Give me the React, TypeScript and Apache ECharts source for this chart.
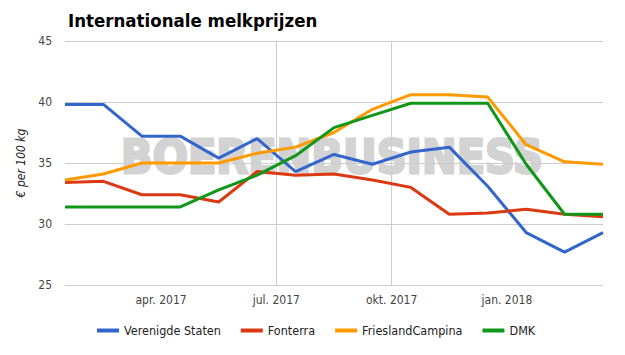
import React, { useEffect, useRef } from "react";
import * as echarts from "echarts";

// Monthly observations (mid-month), Jan 2017 .. Mar 2018
const months = [
  "jan. 2017", "feb. 2017", "mrt. 2017", "apr. 2017", "mei 2017", "jun. 2017",
  "jul. 2017", "aug. 2017", "sep. 2017", "okt. 2017", "nov. 2017", "dec. 2017",
  "jan. 2018", "feb. 2018", "mrt. 2018",
];
const verenigdeStaten = [39.8, 39.8, 37.2, 37.2, 35.4, 37.0, 34.3, 35.7, 34.9, 35.9, 36.3, 33.1, 29.3, 27.7, 29.3];
const fonterra = [33.4, 33.5, 32.4, 32.4, 31.8, 34.3, 34.0, 34.1, 33.6, 33.0, 30.8, 30.9, 31.2, 30.8, 30.6];
const frieslandCampina = [33.6, 34.1, 35.0, 35.0, 35.0, 35.8, 36.3, 37.5, 39.4, 40.6, 40.6, 40.4, 36.5, 35.1, 34.9];
const dmk = [31.4, 31.4, 31.4, 31.4, 32.8, 34.0, 35.6, 37.9, 38.9, 39.9, 39.9, 39.9, 34.9, 30.8, 30.8];

// Quarter boundaries (between month points) and their labels
const quarterTicks = [2.5, 5.5, 8.5, 11.5];
const quarterLabels = ["apr. 2017", "jul. 2017", "okt. 2017", "jan. 2018"];

const seriesDefs = [
  { name: "Verenigde Staten", data: verenigdeStaten, color: "#3366cc" },
  { name: "Fonterra", data: fonterra, color: "#dc3912" },
  { name: "FrieslandCampina", data: frieslandCampina, color: "#ff9900" },
  { name: "DMK", data: dmk, color: "#109618" },
];

const FONT = "'DejaVu Sans Condensed', 'DejaVu Sans', sans-serif";

export default function App() {
  const ref = useRef<HTMLDivElement>(null);
  useEffect(() => {
    if (!ref.current) return;
    const chart = echarts.init(ref.current, undefined, { renderer: "svg" });
    chart.setOption({
      animation: false,
      backgroundColor: "#ffffff",
      textStyle: { fontFamily: FONT },
      title: {
        text: "Internationale melkprijzen",
        left: 63,
        top: 6,
        textStyle: { fontFamily: FONT, fontSize: 18.5, fontWeight: "bold", color: "#000000" },
      },
      graphic: [
        {
          type: "text",
          x: 332,
          y: 157,
          z: -10,
          scaleY: 1.1,
          style: {
            text: "BOERENBUSINESS",
            font: "bold 41.5px 'DejaVu Sans'",
            fill: "#d3d3d3",
            stroke: "#d3d3d3",
            lineWidth: 2.5,
            textAlign: "center",
            textVerticalAlign: "middle",
          },
        },
      ],
      grid: { left: 65, right: 22, top: 41, bottom: 70 },
      legend: {
        left: 92,
        top: 319,
        icon: "rect",
        itemWidth: 22,
        itemHeight: 4,
        itemGap: 20,
        textStyle: { fontFamily: FONT, fontSize: 12.5, color: "#222222" },
        data: seriesDefs.map((s) => s.name),
      },
      xAxis: {
        type: "value",
        min: 0,
        max: months.length - 1,
        axisLine: { show: false },
        axisTick: { show: false, customValues: quarterTicks },
        axisLabel: {
          customValues: quarterTicks,
          margin: 9,
          fontSize: 12,
          fontFamily: FONT,
          color: "#444444",
          formatter: (v: number) => {
            const i = quarterTicks.findIndex((t) => Math.abs(t - v) < 1e-6);
            return i >= 0 ? quarterLabels[i] : "";
          },
        },
        splitLine: { show: true, showMinLine: false, showMaxLine: false, lineStyle: { color: "#cccccc", width: 1 } },
      },
      yAxis: {
        type: "value",
        min: 25,
        max: 45,
        interval: 5,
        name: "€ per 100 kg",
        nameLocation: "middle",
        nameGap: 38,
        nameTextStyle: { fontFamily: FONT, fontSize: 12, fontStyle: "italic", color: "#222222" },
        axisLine: { show: false },
        axisTick: { show: false },
        axisLabel: { margin: 13, fontSize: 12, fontFamily: FONT, color: "#444444" },
        splitLine: { lineStyle: { color: "#cccccc", width: 1 } },
      },
      series: seriesDefs.map((s) => ({
        name: s.name,
        type: "line",
        data: s.data.map((v, i) => [i, v]),
        showSymbol: false,
        symbol: "none",
        color: s.color,
        lineStyle: { width: 3, color: s.color },
        z: 3,
      })),
    });
    return () => chart.dispose();
  }, []);
  return <div ref={ref} style={{ width: 625, height: 355, margin: -8 }} />;
}
